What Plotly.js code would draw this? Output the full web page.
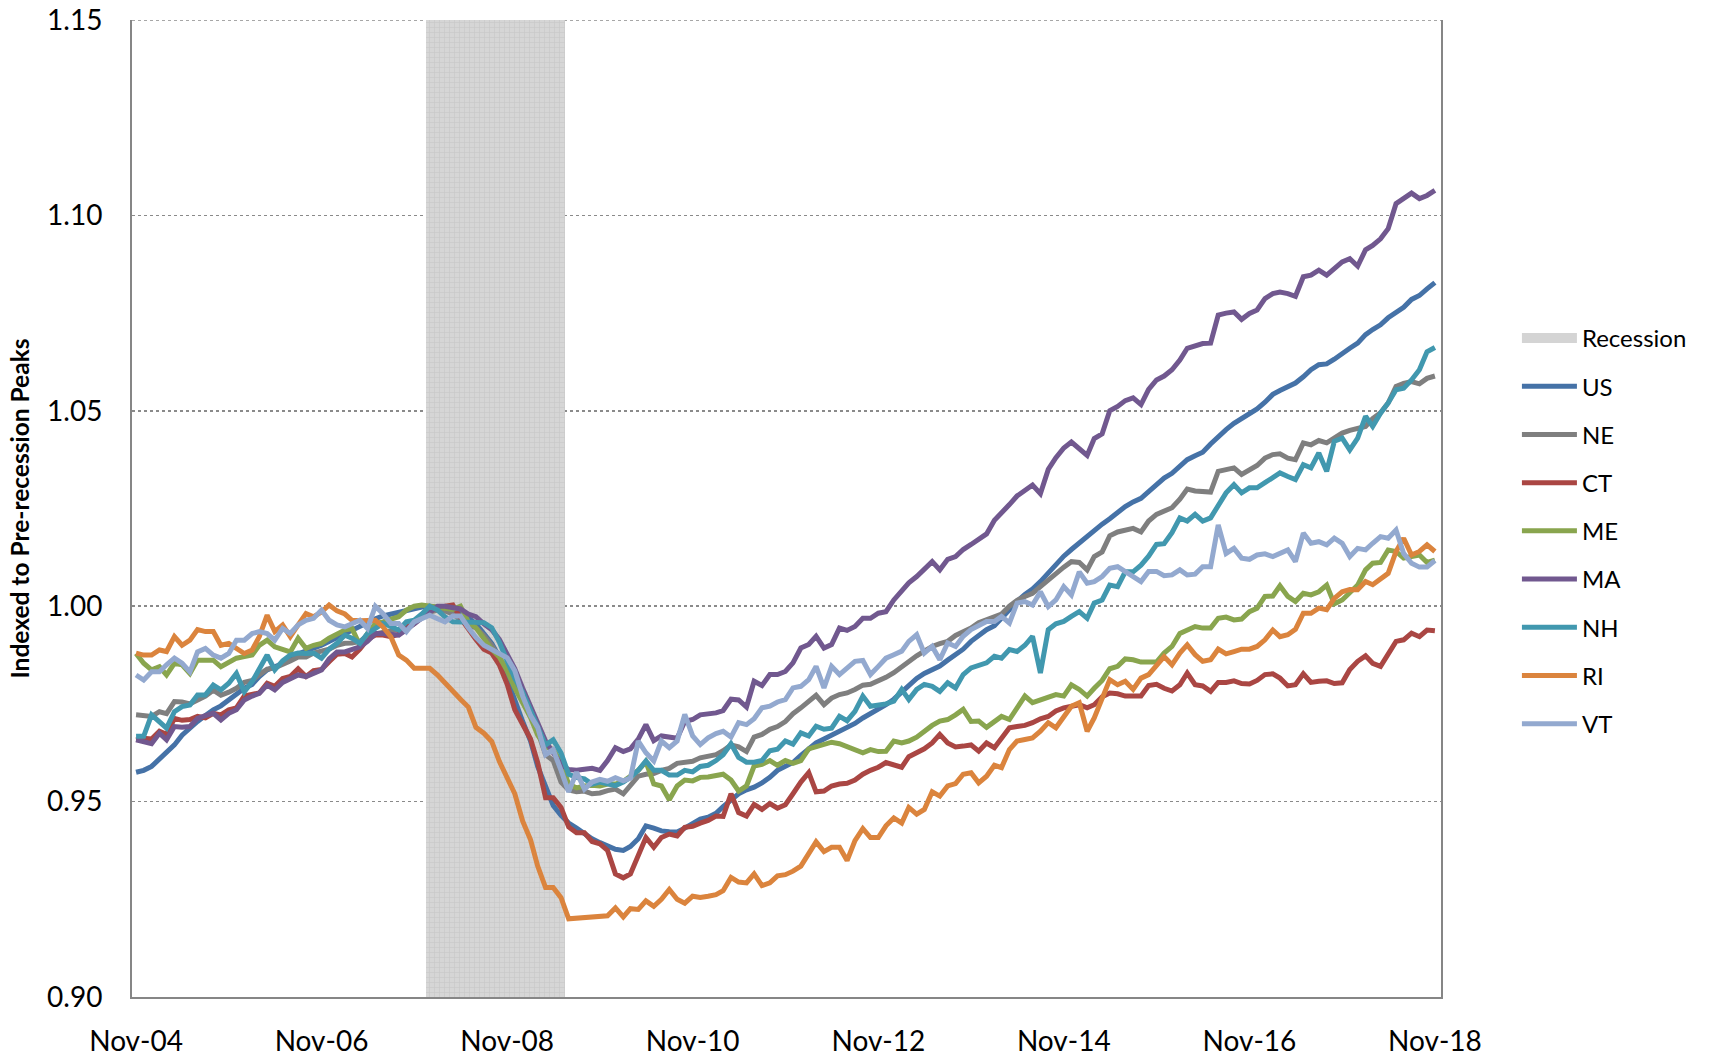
<!DOCTYPE html>
<html>
<head>
<meta charset="utf-8">
<script src="https://cdn.plot.ly/plotly-3.0.1.min.js"></script>
<style>
  html, body { margin: 0; padding: 0; background: #ffffff; }
  #chart { width: 1710px; height: 1057px; }
</style>
</head>
<body>
<div id="chart"></div>
<script>
// Monthly observations, Nov-2004 .. Nov-2018 (169 months)
const startYear = 2004, startMonth = 11, monthCount = 169;
const months = [];
for (let i = 0; i < monthCount; i++) {
  const y = startYear + Math.floor((startMonth - 1 + i) / 12);
  const m = ((startMonth - 1 + i) % 12) + 1;
  months.push(y + '-' + String(m).padStart(2, '0') + '-01');
}

const seriesNames = ['US', 'NE', 'CT', 'ME', 'MA', 'NH', 'RI', 'VT'];
const seriesColors = ['#4572A7', '#7F7F7F', '#AA4643', '#89A54E', '#71588F', '#4198AF', '#DB843D', '#93A9CF'];

// Recession shading months as drawn in the chart
const recessionStart = '2008-01-01';
const recessionEnd = '2009-06-01';
const recessionTop = 1.15;

const US = [
0.9575,0.958,0.959,0.961,0.9625,0.9645,0.967,0.969,0.9705,0.972,0.9735,0.9745,
0.976,0.9775,0.979,0.980,0.982,0.9837,0.9845,0.9853,0.987,0.9878,0.9888,0.9893,
0.990,0.991,0.992,0.993,0.994,0.995,0.996,0.9968,0.9975,0.998,0.9986,0.999,
0.9994,0.9998,1.0,0.9998,0.9995,0.9992,0.998,0.997,0.9955,0.993,0.9905,0.987,
0.981,0.976,0.9705,0.9655,0.959,0.954,0.949,0.9465,0.9445,0.9432,0.9418,0.9405,
0.9395,0.9385,0.9378,0.9375,0.9385,0.9405,0.9438,0.9432,0.9425,0.9423,0.9422,0.9432,
0.9445,0.9455,0.946,0.947,0.9487,0.9505,0.952,0.953,0.9537,0.9548,0.9562,0.958,
0.9592,0.960,0.9618,0.9635,0.965,0.966,0.967,0.9677,0.969,0.970,0.9714,0.9725,
0.9735,0.9748,0.9762,0.978,0.980,0.9815,0.9828,0.9838,0.9847,0.9862,0.9877,0.989,
0.991,0.9925,0.994,0.995,0.997,0.999,1.0012,1.003,1.0044,1.0063,1.0086,1.0108,
1.0128,1.0145,1.0162,1.018,1.0192,1.021,1.0224,1.024,1.0255,1.0267,1.0276,1.0293,
1.031,1.0328,1.034,1.0358,1.0375,1.0385,1.0394,1.0415,1.0435,1.0452,1.0468,1.048,
1.049,1.0505,1.0522,1.0542,1.0552,1.0562,1.0571,1.0587,1.0605,1.0618,1.062,1.0632,
1.0648,1.066,1.0673,1.0695,1.0708,1.072,1.0738,1.0752,1.0765,1.0785,1.0795,1.0812,
1.0828];

const NE = [
0.9722,0.972,0.9718,0.973,0.9725,0.9756,0.9755,0.975,0.976,0.977,0.9785,0.9772,
0.978,0.979,0.9805,0.981,0.9825,0.9839,0.9842,0.985,0.986,0.987,0.987,0.988,
0.9885,0.989,0.990,0.9905,0.9906,0.991,0.9925,0.993,0.9935,0.9937,0.994,0.9945,
0.996,0.997,0.9985,0.999,0.9988,0.998,0.9965,0.995,0.9945,0.9925,0.990,0.987,
0.9835,0.980,0.9765,0.972,0.968,0.962,0.9605,0.955,0.953,0.9525,0.9527,0.952,
0.9522,0.9528,0.9532,0.952,0.954,0.9565,0.957,0.9572,0.958,0.9585,0.9598,0.960,
0.9603,0.9612,0.9617,0.962,0.963,0.9645,0.964,0.9628,0.9665,0.9672,0.9685,0.9692,
0.9705,0.9725,0.974,0.9755,0.9772,0.9748,0.9765,0.9774,0.9778,0.9787,0.9798,0.980,
0.9808,0.9818,0.983,0.9845,0.986,0.9873,0.9885,0.9897,0.9904,0.991,0.9925,0.9935,
0.9944,0.9958,0.9965,0.9974,0.998,1.0,1.0015,1.0025,1.0033,1.005,1.0067,1.0085,
1.01,1.0114,1.0112,1.0093,1.0127,1.0139,1.018,1.019,1.0195,1.0199,1.019,1.0218,
1.0235,1.0243,1.0252,1.0274,1.03,1.0295,1.0293,1.0292,1.0345,1.0349,1.0354,1.0337,
1.0349,1.036,1.0379,1.0388,1.039,1.0379,1.0375,1.0418,1.0413,1.0424,1.0418,1.043,
1.0443,1.045,1.0455,1.046,1.048,1.0495,1.052,1.0562,1.057,1.0575,1.0569,1.0583,
1.0589];

const CT = [
0.9658,0.9662,0.966,0.968,0.9672,0.9713,0.9708,0.971,0.9718,0.9714,0.9726,0.9722,
0.9735,0.974,0.977,0.9775,0.9778,0.9803,0.9795,0.9815,0.982,0.984,0.982,0.9835,
0.9838,0.9858,0.9877,0.9879,0.987,0.989,0.9915,0.9926,0.9926,0.9922,0.9928,0.9945,
0.9955,0.9973,0.9985,0.9998,1.0,1.0003,0.997,0.994,0.9915,0.989,0.988,0.985,
0.980,0.9735,0.9695,0.966,0.960,0.951,0.951,0.9485,0.9435,0.942,0.942,0.9398,
0.9392,0.9375,0.9315,0.9305,0.9315,0.936,0.9408,0.9383,0.9408,0.9417,0.9412,0.9434,
0.9437,0.9445,0.9452,0.9463,0.9462,0.952,0.9472,0.9463,0.9493,0.948,0.9495,0.9483,
0.9492,0.952,0.955,0.9574,0.9525,0.9527,0.954,0.9545,0.9547,0.9555,0.957,0.958,
0.9588,0.960,0.9595,0.9588,0.9615,0.9625,0.9635,0.965,0.9672,0.965,0.964,0.9642,
0.9645,0.9629,0.965,0.9638,0.966,0.9689,0.9692,0.9695,0.9702,0.9712,0.9718,0.9732,
0.974,0.9745,0.9748,0.974,0.9748,0.9768,0.9778,0.9776,0.977,0.977,0.977,0.9797,
0.980,0.979,0.9783,0.9799,0.9829,0.9799,0.9796,0.9782,0.9805,0.9805,0.9809,0.9802,
0.9801,0.981,0.9825,0.9827,0.9816,0.9796,0.9799,0.9827,0.9805,0.9808,0.9809,0.9802,
0.9804,0.9838,0.9859,0.9873,0.9854,0.9846,0.988,0.991,0.9914,0.9931,0.9922,0.9939,
0.9937];

const ME = [
0.9879,0.9854,0.9837,0.9845,0.9824,0.9854,0.985,0.9828,0.9862,0.9862,0.9862,0.9845,
0.9858,0.9867,0.9871,0.9875,0.990,0.9913,0.9896,0.9888,0.9883,0.9918,0.9892,0.990,
0.9905,0.9918,0.993,0.9939,0.9943,0.990,0.993,0.9956,0.996,0.9965,0.9973,0.999,
1.0,1.0003,1.0,0.9998,0.9995,0.9992,1.0,0.996,0.9945,0.9915,0.989,0.987,
0.9835,0.979,0.9755,0.9715,0.967,0.9641,0.9633,0.960,0.9545,0.9535,0.954,0.9542,
0.954,0.9545,0.9545,0.9552,0.9565,0.958,0.9602,0.9545,0.954,0.9505,0.954,0.9555,
0.9553,0.9562,0.9563,0.9567,0.957,0.9555,0.9527,0.954,0.9591,0.9595,0.9605,0.9593,
0.9605,0.9598,0.9605,0.9635,0.964,0.9648,0.9652,0.9648,0.964,0.963,0.9625,0.9633,
0.9628,0.9629,0.9655,0.965,0.9655,0.9665,0.968,0.9695,0.9706,0.971,0.9722,0.9736,
0.9705,0.9706,0.969,0.9705,0.9718,0.971,0.974,0.977,0.9753,0.976,0.9765,0.9774,
0.977,0.9799,0.9787,0.977,0.979,0.981,0.984,0.9846,0.9865,0.9863,0.9857,0.9858,
0.9857,0.988,0.9897,0.993,0.9938,0.9948,0.9944,0.9944,0.9969,0.9972,0.9965,0.9967,
0.9986,0.9995,1.0025,1.0026,1.0052,1.0025,1.0012,1.0033,1.0029,1.0037,1.0054,1.0006,
1.0016,1.0033,1.0054,1.0093,1.011,1.0112,1.0144,1.014,1.0123,1.0127,1.0131,1.0112,
1.0118];

const MA = [
0.9658,0.9652,0.9648,0.9675,0.9658,0.9692,0.969,0.9692,0.9713,0.972,0.9726,0.9709,
0.9726,0.9735,0.976,0.977,0.9777,0.9798,0.9786,0.9805,0.9815,0.9824,0.982,0.983,
0.9837,0.9865,0.9883,0.9883,0.9888,0.9896,0.991,0.993,0.993,0.9928,0.9926,0.994,
0.9956,0.997,0.9985,1.0,1.0,0.9998,0.9993,0.998,0.9973,0.9955,0.994,0.9915,
0.988,0.984,0.979,0.9743,0.970,0.9655,0.9625,0.9595,0.9582,0.958,0.9583,0.9585,
0.958,0.9605,0.9638,0.9628,0.9635,0.966,0.9697,0.9656,0.9668,0.9665,0.9662,0.9705,
0.971,0.9722,0.9724,0.9727,0.9733,0.9762,0.976,0.9742,0.9808,0.9797,0.9825,0.9825,
0.9833,0.9855,0.9893,0.9902,0.9923,0.9893,0.9902,0.9944,0.9938,0.9948,0.9969,0.9969,
0.9982,0.9986,1.0016,1.004,1.006,1.0076,1.0095,1.0114,1.0093,1.012,1.0127,1.0145,
1.0158,1.0172,1.0185,1.022,1.0238,1.026,1.0282,1.0295,1.031,1.0288,1.035,1.038,
1.0405,1.042,1.0405,1.0386,1.0429,1.0441,1.05,1.0511,1.0526,1.0533,1.0516,1.0555,
1.0579,1.0589,1.0605,1.063,1.066,1.0667,1.0672,1.0673,1.0745,1.075,1.0753,1.0734,
1.0749,1.0758,1.0787,1.08,1.0804,1.08,1.0793,1.0843,1.0847,1.086,1.0847,1.0864,
1.0881,1.0889,1.087,1.0912,1.0923,1.094,1.0966,1.103,1.1043,1.1057,1.1043,1.1051,
1.1064];

const NH = [
0.9667,0.9667,0.9722,0.9705,0.9688,0.973,0.9743,0.9747,0.9773,0.9773,0.9798,0.9786,
0.9803,0.9828,0.9781,0.9807,0.984,0.9875,0.9837,0.986,0.9875,0.988,0.9879,0.988,
0.9867,0.989,0.9905,0.9926,0.9918,0.9905,0.993,0.9945,0.9956,0.9948,0.9939,0.996,
0.9964,0.998,1.0,0.999,0.9973,0.996,0.996,0.996,0.996,0.9958,0.9945,0.9908,
0.986,0.9815,0.978,0.9735,0.969,0.9645,0.9658,0.9624,0.957,0.9562,0.9558,0.9545,
0.955,0.9545,0.9541,0.955,0.9562,0.958,0.9604,0.958,0.958,0.9568,0.9568,0.958,
0.9576,0.959,0.9593,0.9605,0.962,0.9648,0.9613,0.9601,0.9601,0.9605,0.963,0.9634,
0.9655,0.9647,0.9676,0.9668,0.9693,0.9685,0.9688,0.9718,0.9707,0.9731,0.977,0.9744,
0.9746,0.975,0.9757,0.9787,0.9761,0.9787,0.980,0.9795,0.9782,0.9804,0.9791,0.9825,
0.9842,0.985,0.9855,0.9872,0.9867,0.9889,0.9884,0.990,0.9923,0.9829,0.994,0.9955,
0.9961,0.9974,0.9986,0.9969,1.0008,1.0016,1.0054,1.005,1.0088,1.0088,1.0105,1.0128,
1.0158,1.016,1.0188,1.0226,1.0218,1.0235,1.0218,1.0226,1.026,1.029,1.0311,1.029,
1.0303,1.0303,1.0316,1.0328,1.0341,1.0332,1.0324,1.0362,1.0354,1.0392,1.0345,1.0422,
1.043,1.040,1.043,1.0486,1.046,1.0494,1.052,1.0554,1.0558,1.0579,1.0605,1.0651,
1.0662];

const RI = [
0.988,0.9875,0.9875,0.9888,0.9884,0.9922,0.990,0.9913,0.994,0.9935,0.9935,0.990,
0.9905,0.9892,0.9879,0.9888,0.9922,0.9977,0.9935,0.9952,0.9922,0.9952,0.9981,0.9973,
0.9985,1.0003,0.9988,0.998,0.9964,0.9963,0.9964,0.9964,0.9947,0.9922,0.9875,0.9862,
0.9841,0.9841,0.9841,0.9824,0.9803,0.9785,0.9762,0.9742,0.969,0.9675,0.9654,0.9603,
0.9558,0.952,0.945,0.9402,0.9335,0.928,0.928,0.9254,0.920,0.9201,0.9202,0.9203,
0.9205,0.9208,0.9228,0.9205,0.9226,0.9224,0.9246,0.9232,0.925,0.9275,0.925,0.924,
0.9258,0.9255,0.9258,0.9262,0.9272,0.9306,0.9294,0.9292,0.9315,0.9285,0.9292,0.931,
0.9313,0.9322,0.9335,0.937,0.9397,0.9372,0.9383,0.9383,0.9349,0.940,0.9431,0.9408,
0.9408,0.9438,0.9458,0.9445,0.9485,0.9468,0.948,0.9525,0.9514,0.954,0.9546,0.957,
0.9574,0.9548,0.9565,0.9593,0.9587,0.9633,0.9655,0.9659,0.9663,0.968,0.9702,0.9689,
0.9718,0.9744,0.9753,0.968,0.9714,0.9761,0.9812,0.9799,0.9808,0.9787,0.9816,0.9825,
0.985,0.9871,0.985,0.988,0.9901,0.9876,0.9859,0.9863,0.989,0.9878,0.9884,0.989,
0.989,0.9897,0.9914,0.9939,0.9922,0.9927,0.9941,0.9982,0.9982,0.9995,0.9991,1.002,
1.0037,1.0043,1.0042,1.0063,1.0055,1.0069,1.0084,1.014,1.0174,1.0131,1.014,1.0157,
1.014];

const VT = [
0.9824,0.9811,0.9832,0.9832,0.985,0.9867,0.9854,0.9832,0.9883,0.9892,0.9875,0.9867,
0.9879,0.9913,0.9913,0.993,0.9935,0.993,0.9913,0.9943,0.993,0.9952,0.9964,0.9969,
0.999,0.9964,0.9952,0.9947,0.9955,0.9964,0.9943,1.0,0.9981,0.9956,0.9956,0.9935,
0.996,0.997,0.9977,0.9968,0.996,0.9975,0.9975,0.9945,0.992,0.990,0.9888,0.988,
0.9868,0.9835,0.977,0.972,0.969,0.962,0.9633,0.958,0.9525,0.9575,0.9532,0.955,
0.9557,0.9552,0.9561,0.9553,0.956,0.9655,0.9625,0.9604,0.9655,0.9638,0.9655,0.9723,
0.9668,0.9646,0.9663,0.9674,0.968,0.9665,0.9702,0.9697,0.9712,0.974,0.9744,0.9755,
0.9761,0.9791,0.9795,0.9812,0.9846,0.9791,0.9846,0.9825,0.9842,0.9859,0.9861,0.9825,
0.9846,0.9867,0.9876,0.9885,0.991,0.9927,0.988,0.9897,0.9863,0.9906,0.9897,0.9923,
0.994,0.9952,0.9961,0.9961,0.9974,0.9957,1.0008,1.0012,1.0003,1.0037,0.9999,1.0016,
1.005,1.0029,1.0088,1.0059,1.0063,1.0076,1.0097,1.0101,1.0088,1.0076,1.0063,1.0089,
1.0089,1.0078,1.008,1.0093,1.008,1.0082,1.0101,1.0101,1.0208,1.0135,1.0148,1.0123,
1.012,1.0131,1.0134,1.0127,1.0135,1.0144,1.0114,1.0187,1.0161,1.0165,1.0157,1.0174,
1.0161,1.0127,1.0148,1.0144,1.0161,1.0178,1.0174,1.0195,1.0135,1.011,1.01,1.01,
1.0117];

const seriesValues = [US, NE, CT, ME, MA, NH, RI, VT];

const recessionX = months.filter(d => d >= recessionStart && d <= recessionEnd);
const recessionY = recessionX.map(() => recessionTop);

const FONT = 'Lato, "Open Sans", "Liberation Sans", sans-serif';
const REC_COLOR = '#d4d4d4';

const traces = [];
// Recession shading (bars spanning the plot height)
traces.push({
  type: 'bar',
  name: 'Recession',
  legendgroup: 'rec',
  showlegend: false,
  x: recessionX,
  y: recessionY,
  width: 30.44 * 24 * 3600 * 1000,
  marker: {
    color: REC_COLOR,
    line: { width: 0 },
    pattern: { shape: '+', fgcolor: '#c9c9c9', bgcolor: '#d6d6d6', size: 5, solidity: 0.25 }
  },
  hoverinfo: 'skip'
});
// Legend swatch for the recession shading (Excel-style wide patch)
traces.push({
  type: 'scatter',
  mode: 'lines',
  name: 'Recession',
  legendgroup: 'rec',
  x: [null],
  y: [null],
  line: { color: REC_COLOR, width: 15 },
  hoverinfo: 'skip'
});
seriesNames.forEach((name, i) => {
  traces.push({
    type: 'scatter',
    mode: 'lines',
    name: name,
    legendgroup: name,
    x: months,
    y: seriesValues[i],
    line: { color: seriesColors[i], width: 5 },
    hoverinfo: 'skip'
  });
});

const layout = {
  width: 1710,
  height: 1057,
  margin: { l: 132, r: 269, t: 20, b: 60 },
  paper_bgcolor: '#ffffff',
  plot_bgcolor: '#ffffff',
  font: { family: FONT, color: '#000000' },
  bargap: 0,
  showlegend: true,
  xaxis: {
    type: 'date',
    range: ['2004-10-16', '2018-11-25'],
    tick0: '2004-11-01',
    dtick: 'M24',
    tickformat: '%b-%y',
    showgrid: false,
    zeroline: false,
    showline: true,
    linecolor: '#868686',
    linewidth: 2,
    ticks: '',
    ticklabelstandoff: 18,
    tickfont: { family: FONT, size: 28, color: '#000000' }
  },
  yaxis: {
    range: [0.9, 1.15],
    tick0: 0.9,
    dtick: 0.05,
    tickformat: '.2f',
    showgrid: true,
    gridcolor: '#8a8a8a',
    griddash: 'dot',
    gridwidth: 1.5,
    zeroline: false,
    showline: true,
    mirror: true,
    linecolor: '#868686',
    linewidth: 2,
    ticks: '',
    ticklabelstandoff: 22,
    tickfont: { family: FONT, size: 28, color: '#000000' },
    title: {
      text: '<b>Indexed to Pre-recession Peaks</b>',
      font: { family: FONT, size: 24.5, color: '#000000' },
      standoff: 10
    }
  },
  shapes: [
    { type: 'line', xref: 'paper', yref: 'y', x0: 0, x1: 1, y0: 1.15, y1: 1.15,
      line: { color: '#8a8a8a', width: 1.5, dash: 'dot' }, layer: 'below' }
  ],
  legend: {
    x: 1.058,
    xanchor: 'left',
    y: 0.477,
    yanchor: 'middle',
    bgcolor: 'rgba(0,0,0,0)',
    borderwidth: 0,
    itemwidth: 55,
    tracegroupgap: 14,
    font: { family: FONT, size: 24, color: '#000000' }
  }
};

Plotly.newPlot('chart', traces, layout, { staticPlot: true, displayModeBar: false });
</script>
</body>
</html>
